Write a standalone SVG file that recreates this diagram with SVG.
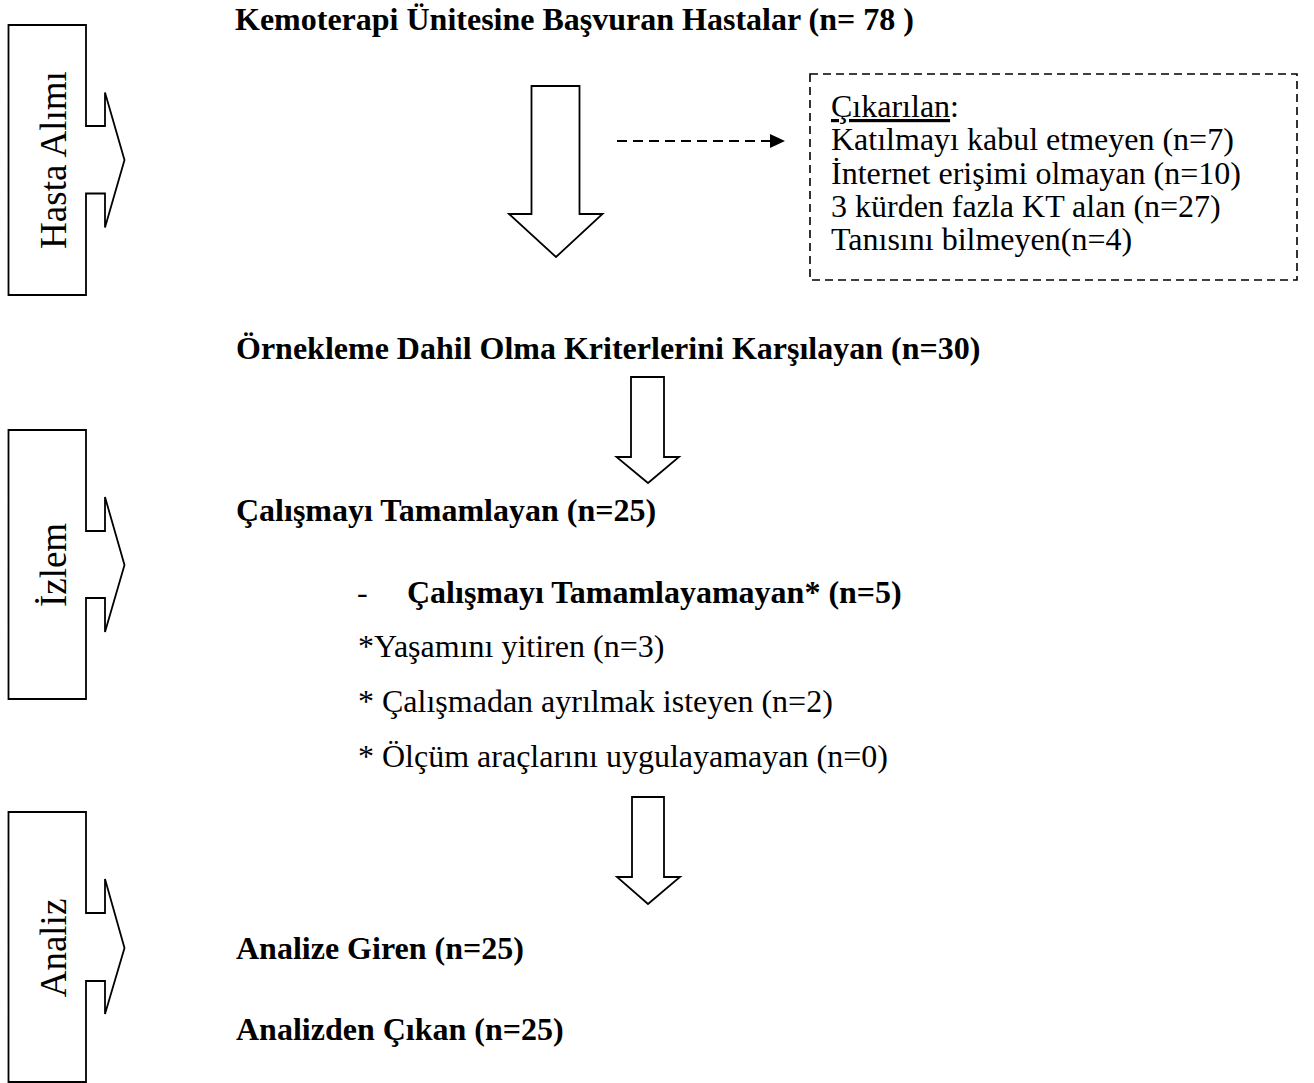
<svg xmlns="http://www.w3.org/2000/svg" width="1314" height="1083" viewBox="0 0 1314 1083">
<style>
.shape{fill:#fff;stroke:#000;stroke-width:1.8;stroke-linejoin:miter}
.t{font-family:"Liberation Serif","Times New Roman",serif;font-size:32px;fill:#000}
.b{font-weight:bold}
.side{font-family:"Liberation Serif","Times New Roman",serif;font-size:37px;fill:#000;text-anchor:middle}
.dash{fill:none;stroke:#000;stroke-width:1.6;stroke-dasharray:8 5}
</style>
<rect width="1314" height="1083" fill="#fff"/>

<g id="phase-hasta-alimi">
<path class="shape" d="M8.5,25 H86 V126 H105 V92.5 L124.5,160 L105,227.5 V193.5 H86 V295 H8.5 Z"/>
<text class="side" transform="translate(66,160) rotate(-90)">Hasta Alımı</text>
</g>
<g id="phase-izlem">
<path class="shape" d="M8.5,430 H86 V531 H105 V497 L124.5,565 L105,632 V598 H86 V699 H8.5 Z"/>
<text class="side" transform="translate(66,565) rotate(-90)">İzlem</text>
</g>
<g id="phase-analiz">
<path class="shape" d="M8.5,812 H86 V913 H105 V879 L124.5,948 L105,1014 V981 H86 V1082 H8.5 Z"/>
<text class="side" transform="translate(66,948) rotate(-90)">Analiz</text>
</g>

<g id="node-basvuran">
<text class="t b" x="235" y="30">Kemoterapi Ünitesine Başvuran Hastalar (n= 78 )</text>
</g>

<g id="node-cikarilan">
<rect class="dash" x="810" y="74" width="487" height="206"/>
<text class="t" x="831">
<tspan x="831" y="117"><tspan text-decoration="underline">Çıkarılan</tspan>:</tspan>
<tspan x="831" y="150">Katılmayı kabul etmeyen (n=7)</tspan>
<tspan x="831" y="183.5">İnternet erişimi olmayan (n=10)</tspan>
<tspan x="831" y="217">3 kürden fazla KT alan (n=27)</tspan>
<tspan x="831" y="250">Tanısını bilmeyen(n=4)</tspan>
</text>
</g>

<g id="node-orneklem">
<text class="t b" x="236" y="359">Örnekleme Dahil Olma Kriterlerini Karşılayan (n=30)</text>
</g>

<g id="node-tamamlayan">
<text class="t b" x="236" y="521">Çalışmayı Tamamlayan (n=25)</text>
</g>

<g id="node-tamamlayamayan">
<text class="t" x="357" y="603">-</text>
<text class="t b" x="407" y="603">Çalışmayı Tamamlayamayan* (n=5)</text>
<text class="t" x="358" y="657">*Yaşamını yitiren (n=3)</text>
<text class="t" x="358" y="712">* Çalışmadan ayrılmak isteyen (n=2)</text>
<text class="t" x="358" y="767">* Ölçüm araçlarını uygulayamayan (n=0)</text>
</g>

<g id="node-analize-giren">
<text class="t b" x="236" y="959">Analize Giren (n=25)</text>
</g>
<g id="node-analizden-cikan">
<text class="t b" x="236" y="1040">Analizden Çıkan (n=25)</text>
</g>

<g id="connectors">
<path class="shape" d="M531.5,86 H579.5 V214 H602.5 L556,257 L509,214 H531.5 Z"/>
<path class="shape" d="M631,377 H664 V457 H679 L648,483 L616.5,457 H631 Z"/>
<path class="shape" d="M632,797 H664 V877 H680 L648,904 L617,877 H632 Z"/>
<line x1="617" y1="141" x2="770" y2="141" stroke="#000" stroke-width="2.2" stroke-dasharray="10 6"/>
<path d="M770,134 L785,141 L770,148 Z" fill="#000"/>
</g>
</svg>
